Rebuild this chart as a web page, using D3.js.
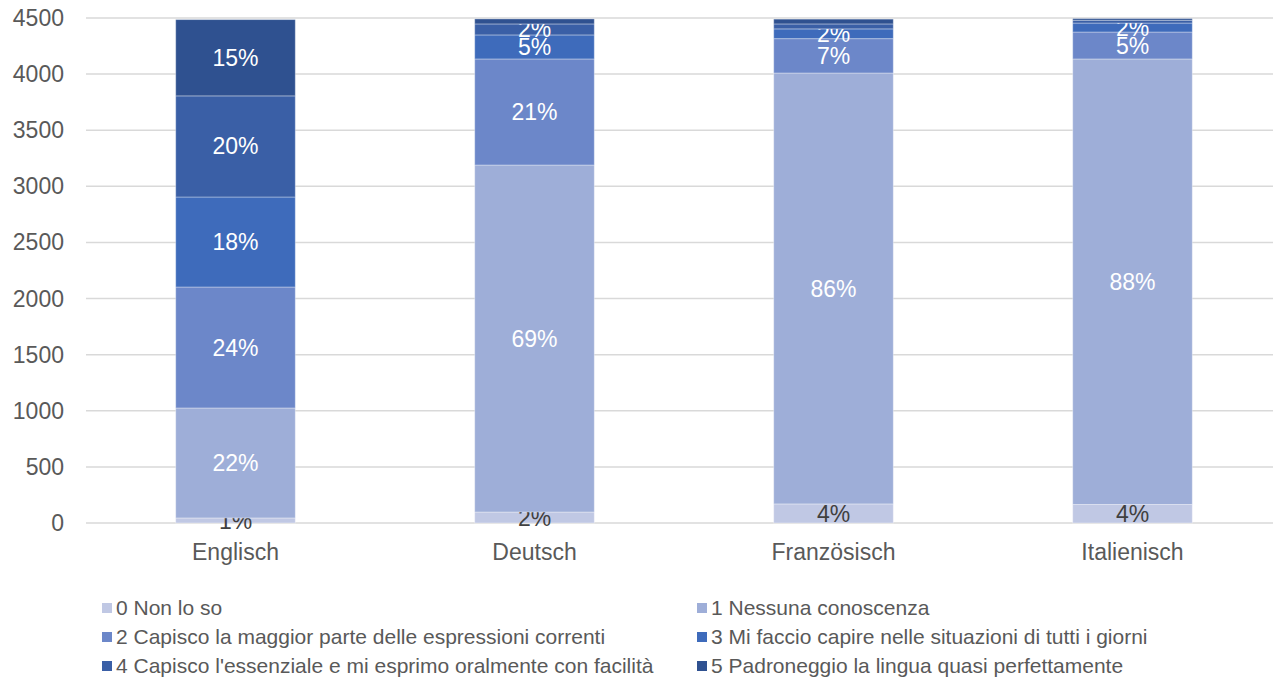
<!DOCTYPE html>
<meta charset="utf-8">
<html>
<head>
    <title>Sprachkenntnisse</title>
    <script src="https://d3js.org/d3.v7.min.js"></script>
</head>
<style>
    body { margin: 0; background: white; font-family: "Liberation Sans", Arial, sans-serif; }
    text { font-family: "Liberation Sans", Arial, sans-serif; }
</style>
<body>
<div id="chartdiv"></div>
<script>

// data
const languages = ["Englisch", "Deutsch", "Französisch", "Italienisch"]
const levels = [
    "0 Non lo so",
    "1 Nessuna conoscenza",
    "2 Capisco la maggior parte delle espressioni correnti",
    "3 Mi faccio capire nelle situazioni di tutti i giorni",
    "4 Capisco l'essenziale e mi esprimo oralmente con facilità",
    "5 Padroneggio la lingua quasi perfettamente"
]
const level0 = [45, 98, 170, 165]
const level1 = [980, 3092, 3840, 3970]
const level2 = [1078, 945, 306, 240]
const level3 = [802, 214, 87, 80]
const level4 = [901, 98, 44, 25]
const level5 = [680, 45, 43, 15]
const yTicks = [0, 500, 1000, 1500, 2000, 2500, 3000, 3500, 4000, 4500]
const colors = ["#c0c8e4", "#9eaed8", "#6c87c9", "#3e6bbb", "#3a5fa6", "#2f5190"]

const seriesValues = [level0, level1, level2, level3, level4, level5]

// build rows for d3.stack
var rows = languages.map((lang, i) => {
    var r = { lang: lang }
    levels.forEach((lv, k) => r[lv] = seriesValues[k][i])
    return r
})
var totals = languages.map((lang, i) => d3.sum(seriesValues, s => s[i]))

const width = 1273, height = 680
const plotLeft = 86, plotRight = 1282, plotTop = 18, plotBottom = 523

const svg = d3.select("#chartdiv").append("svg")
    .attr("width", width)
    .attr("height", height)

var x = d3.scaleBand()
    .domain(languages)
    .range([plotLeft, plotRight])
    .paddingInner(0.6)
    .paddingOuter(0.3)

var y = d3.scaleLinear()
    .domain([0, 4500])
    .range([plotBottom, plotTop])

// gridlines + y labels
svg.append("g")
    .selectAll("line")
    .data(yTicks)
    .join("line")
    .attr("x1", plotLeft)
    .attr("x2", plotRight)
    .attr("y1", d => y(d))
    .attr("y2", d => y(d))
    .attr("stroke", "#d9d9d9")
    .attr("stroke-width", 1.5)

svg.append("g")
    .selectAll("text")
    .data(yTicks)
    .join("text")
    .attr("x", 64)
    .attr("y", d => y(d))
    .attr("dy", "0.35em")
    .attr("text-anchor", "end")
    .attr("fill", "#595959")
    .style("font-size", "23px")
    .text(d => d)

// stacked bars
var stacked = d3.stack().keys(levels)(rows)

var groups = svg.append("g")
    .selectAll("g")
    .data(stacked)
    .join("g")
    .attr("fill", (d, k) => colors[k])

groups.selectAll("rect")
    .data(d => d)
    .join("rect")
    .attr("x", d => x(d.data.lang))
    .attr("width", x.bandwidth())
    .attr("y", d => y(d[1]))
    .attr("height", d => y(d[0]) - y(d[1]))
    .attr("stroke", "#ffffff")
    .attr("stroke-opacity", 0.35)
    .attr("stroke-width", 1)

// percentage labels (level 0 always, others from 2%)
groups.each(function(series, k) {
    d3.select(this).selectAll("text")
        .data(series.filter((d, i) => {
            var pct = Math.round(100 * (d[1] - d[0]) / totals[i])
            return k == 0 || pct >= 2
        }))
        .join("text")
        .attr("x", d => x(d.data.lang) + x.bandwidth() / 2)
        .attr("y", d => y((d[0] + d[1]) / 2))
        .attr("dy", "0.35em")
        .attr("text-anchor", "middle")
        .attr("fill", k == 0 ? "#404040" : "#ffffff")
        .style("font-size", "23px")
        .text(d => Math.round(100 * (d[1] - d[0]) / totals[languages.indexOf(d.data.lang)]) + "%")
})

// category labels
svg.append("g")
    .selectAll("text")
    .data(languages)
    .join("text")
    .attr("x", d => x(d) + x.bandwidth() / 2)
    .attr("y", 552)
    .attr("dy", "0.35em")
    .attr("text-anchor", "middle")
    .attr("fill", "#595959")
    .style("font-size", "23px")
    .text(d => d)

// legend, two columns
var legend = svg.append("g")
    .selectAll("g")
    .data(levels)
    .join("g")
    .attr("transform", (d, k) => "translate(" + (k % 2 == 0 ? 102 : 697) + "," + (608 + Math.floor(k / 2) * 29) + ")")

legend.append("rect")
    .attr("x", 0)
    .attr("y", -5)
    .attr("width", 10)
    .attr("height", 10)
    .attr("fill", (d, k) => colors[k])

legend.append("text")
    .attr("x", 14)
    .attr("y", 0)
    .attr("dy", "0.35em")
    .attr("fill", "#595959")
    .style("font-size", "21px")
    .text(d => d)

</script>
</body>
</html>
